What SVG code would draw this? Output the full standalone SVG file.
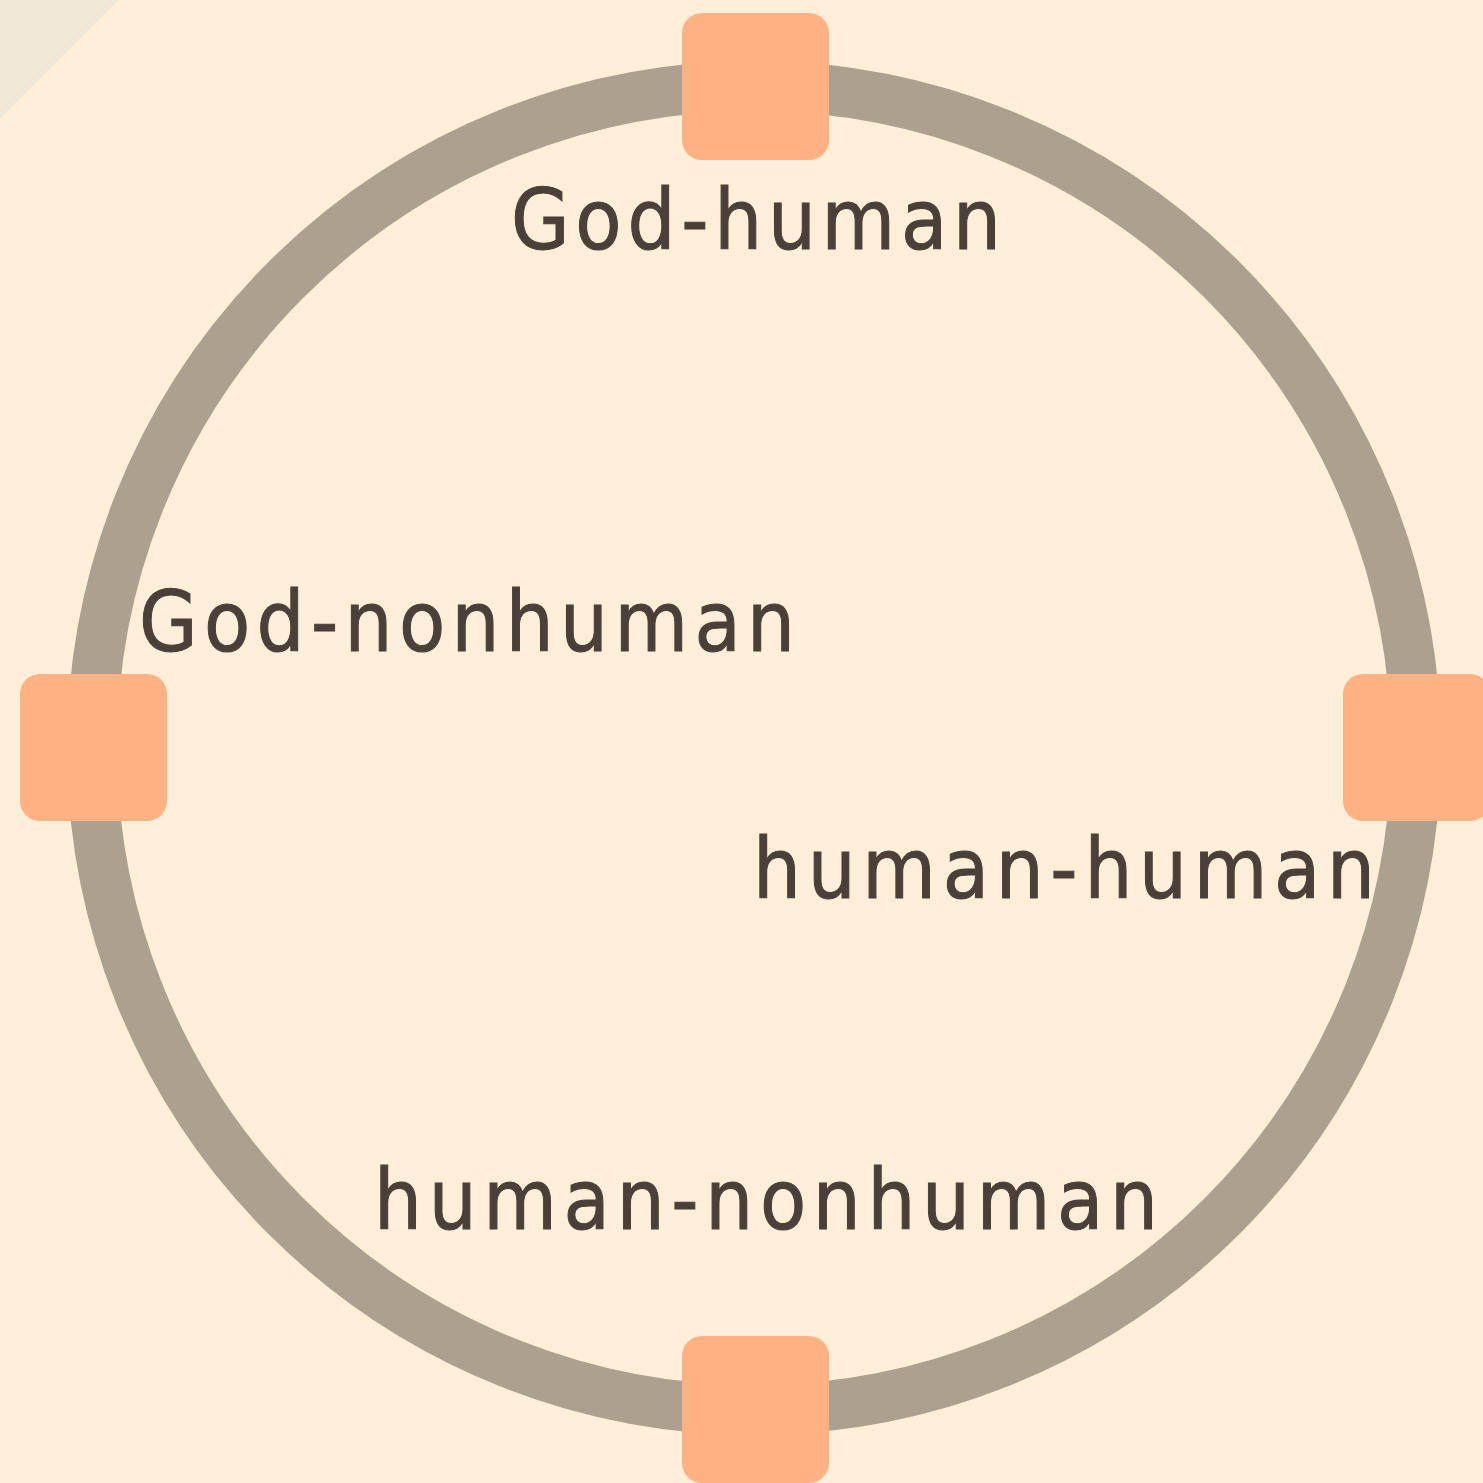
<svg xmlns="http://www.w3.org/2000/svg" width="1483" height="1483" viewBox="0 0 1483 1483">
<style>
.node{fill:#ffb385}
.ring{fill:none;stroke:#ada08f;stroke-width:50}
.lbl{font-family:"DejaVu Sans Condensed","DejaVu Sans",sans-serif;font-size:84px;fill:#4a4039;stroke:#4a4039;stroke-width:1}
</style>
<rect width="1483" height="1483" fill="#ffefd9"/>
<polygon points="0,0 118,0 0,118" fill="#f0e8d6"/>
<g id="connectors">
<circle class="ring" cx="754" cy="748" r="662"/>
</g>
<g id="node-top"><rect class="node" x="682" y="13" width="147" height="147" rx="20"/></g>
<g id="node-left"><rect class="node" x="20" y="674" width="147" height="147" rx="20"/></g>
<g id="node-right"><rect class="node" x="1343" y="674" width="147" height="147" rx="20"/></g>
<g id="node-bottom"><rect class="node" x="682" y="1336" width="147" height="147" rx="20"/></g>
<g id="labels">
<text class="lbl" x="511" y="249" textLength="490" lengthAdjust="spacing">God-human</text>
<text class="lbl" x="139" y="651" textLength="656" lengthAdjust="spacing">God-nonhuman</text>
<text class="lbl" x="753" y="898" textLength="622" lengthAdjust="spacing">human-human</text>
<text class="lbl" x="374" y="1229" textLength="784" lengthAdjust="spacing">human-nonhuman</text>
</g>
</svg>
